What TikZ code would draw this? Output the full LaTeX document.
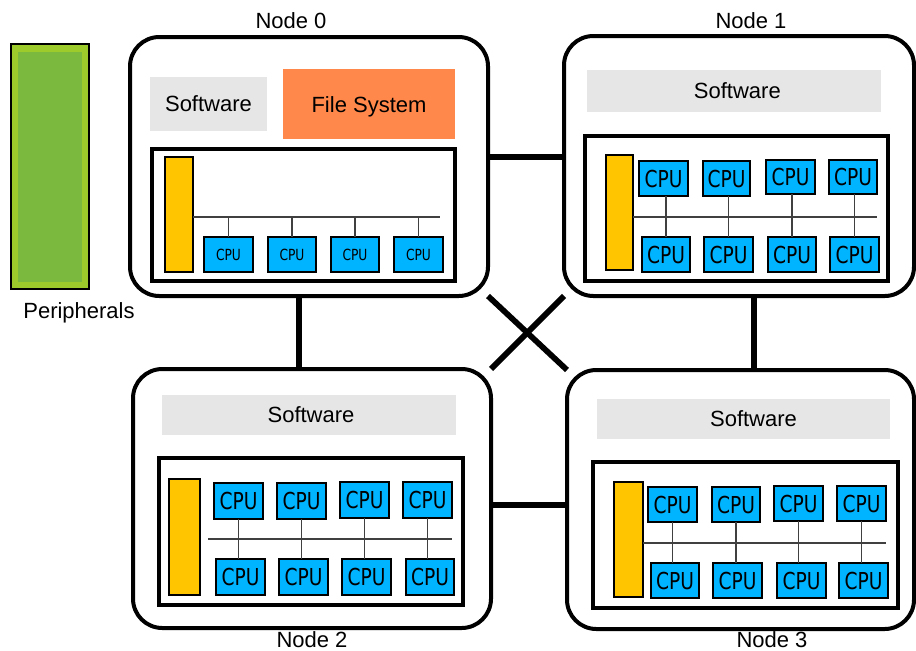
\documentclass[tikz,border=0pt]{standalone}
\usepackage{fontspec}
\setmainfont{Liberation Sans}
\newfontfamily\cpufont[FakeStretch=0.8]{DejaVu Sans}
\usetikzlibrary{fit}
\definecolor{cpublue}{HTML}{00B4FF}
\definecolor{baryellow}{HTML}{FFC600}
\definecolor{fsorange}{HTML}{FF884A}
\definecolor{swgray}{HTML}{E6E6E6}
\definecolor{pgreen}{HTML}{7AB93D}
\definecolor{pgreenlight}{HTML}{9DCB2B}
\begin{document}
\begin{tikzpicture}[x=0.75pt,y=-0.75pt,
  box/.style={inner sep=0pt,outer sep=0pt},
  outerbox/.style={box,draw,line width=3pt,rounded corners=22pt,fill=white},
  innerbox/.style={box,draw,line width=3pt,fill=white},
  swbox/.style={box,fill=swgray},
  fsbox/.style={box,fill=fsorange},
  txt/.style={inner sep=0pt,text depth=0pt,font=\fontsize{16.5}{18}\selectfont},
  ybar/.style={box,draw,line width=1pt,fill=baryellow},
  cpu/.style={box,draw,line width=1.8pt,fill=cpublue},
  cputxt/.style={inner sep=0pt,text depth=0pt,font=\cpufont\fontsize{17.5}{17}\selectfont},
  cputxtsmall/.style={cputxt,font=\cpufont\fontsize{11.5}{12}\selectfont},
  bus/.style={line width=1pt,draw=black!75},
  link/.style={line width=3.8pt},
  diag/.style={line width=4.3pt},
  lbl/.style={anchor=base,inner sep=0pt,font=\fontsize{16.5}{18}\selectfont}
]
\useasboundingbox (0,0) rectangle (916,650);

% peripherals
\node[box,draw,line width=2pt,fill=pgreenlight,fit={(11,44)(89,289)}] (per) {};
\node[box,fill=pgreen,fit={(18,52)(82,282)}] (perin) {};
\node[lbl] (perlbl) at (79,318) {Peripherals};

% outer node boxes (positions only, drawn after links)
\path
  node[box,fit={(130,37)(488,296)}] (n0p) {}
  node[box,fit={(564,36)(914,296)}] (n1p) {}
  node[box,fit={(133,369)(491,628)}] (n2p) {}
  node[box,fit={(567,370)(914,629)}] (n3p) {};

% links
\coordinate (l01) at (520,157);
\coordinate (l02) at (299,330);
\coordinate (l13) at (754,330);
\coordinate (l23) at (530,505);
\draw[link] (n0p.east |- l01) -- (n1p.west |- l01);
\draw[link] (l02 |- n0p.south) -- (l02 |- n2p.north);
\draw[link] (l13 |- n1p.south) -- (l13 |- n3p.north);
\draw[link] (n2p.east |- l23) -- (n3p.west |- l23);
\draw[diag] (n0p.south east) -- (n3p.north west);
\draw[diag] (n1p.south west) -- (n2p.north east);

% outer boxes
\node[outerbox,fit={(130,37)(488,296)}] (n0) {};
\node[outerbox,fit={(564,36)(914,296)}] (n1) {};
\node[outerbox,fit={(133,369)(491,628)}] (n2) {};
\node[outerbox,fit={(567,370)(914,629)}] (n3) {};

\node[lbl] (n0lbl) at (291,28) {Node 0};
\node[lbl] (n1lbl) at (751,28) {Node 1};
\node[lbl] (n2lbl) at (312,647) {Node 2};
\node[lbl] (n3lbl) at (772,647) {Node 3};

% ---------- Node 0 ----------
\node[swbox,fit={(150,77)(267,131)}] (sw0) {};
\node[txt] (sw0t) at (sw0.center) {Software};
\node[fsbox,fit={(283,69)(455,139)}] (fs0) {};
\node[txt] (fs0t) at ([yshift=-0.5pt]fs0.center) {File System};
\node[innerbox,fit={(152,149)(455,281)}] (in0) {};
\node[ybar,fit={(165,157)(193,272)}] (y0) {};
\coordinate (b0) at (440,217);
\foreach \n/\xa/\xb in {c0a/204/253,c0b/268/316,c0c/331/379,c0d/394/443}{
  \node[cpu,fit={(\xa,237)(\xb,272)}] (\n) {};
  \node[cputxtsmall] (\n t) at (\n.center) {CPU};
  \draw[bus] (\n.north) -- (\n.north |- b0);
}
\draw[bus] (y0.east |- b0) -- (b0);

% ---------- Node 1 ----------
\node[swbox,fit={(587,70)(881,112)}] (sw1) {};
\node[txt] (sw1t) at ([xshift=2.5pt]sw1.center) {Software};
\node[innerbox,fit={(585,136)(888,281)}] (in1) {};
\node[ybar,fit={(606,155)(633,270)}] (y1) {};
\coordinate (b1) at (877,217);
\draw[bus] (y1.east |- b1) -- (b1);
\foreach \n/\xa/\xb/\ya/\yb in {c1t1/639/688/161/196,c1t2/703/750/161/196,c1t3/766/815/160/194,c1t4/829/877/160/194,
  c1b1/642/690/237/272,c1b2/704/753/237/272,c1b3/768/816/237/272,c1b4/830/879/237/272}{
  \node[cpu,fit={(\xa,\ya)(\xb,\yb)}] (\n) {};
  \node[cputxt] (\n t) at (\n.center) {CPU};
}
\foreach \i in {1,2,3,4} \draw[bus] (c1b\i.north) -- (c1b\i.north |- c1t\i.south);

% ---------- Node 2 ----------
\node[swbox,fit={(162,395)(456,435)}] (sw2) {};
\node[txt] (sw2t) at ([xshift=1.5pt]sw2.center) {Software};
\node[innerbox,fit={(159,458)(463,605)}] (in2) {};
\node[ybar,fit={(169,479)(200,595)}] (y2) {};
\coordinate (b2s) at (208,539);
\coordinate (b2) at (452,539);
\draw[bus] (b2s) -- (b2);
\foreach \n/\xa/\xb/\ya/\yb in {c2t1/214/263/483/519,c2t2/277/326/483/519,c2t3/340/389/482/518,c2t4/403/452/482/518,
  c2b1/216/265/559/595,c2b2/279/328/559/595,c2b3/342/391/559/595,c2b4/406/454/559/595}{
  \node[cpu,fit={(\xa,\ya)(\xb,\yb)}] (\n) {};
  \node[cputxt] (\n t) at (\n.center) {CPU};
}
\foreach \i in {1,2,3,4} \draw[bus] (c2t\i.south) -- (c2t\i.south |- c2b\i.north);

% ---------- Node 3 ----------
\node[swbox,fit={(597,399)(890,439)}] (sw3) {};
\node[txt] (sw3t) at ([xshift=7.5pt]sw3.center) {Software};
\node[innerbox,fit={(593,462)(898,608)}] (in3) {};
\node[ybar,fit={(614,482)(643,597)}] (y3) {};
\coordinate (b3) at (886,543);
\draw[bus] (y3.east |- b3) -- (b3);
\foreach \n/\xa/\xb/\ya/\yb in {c3t1/648/697/487/522,c3t2/712/760/487/522,c3t3/774/823/486/521,c3t4/837/886/486/521,
  c3b1/651/699/563/598,c3b2/713/762/563/598,c3b3/777/826/563/598,c3b4/839/888/563/598}{
  \node[cpu,fit={(\xa,\ya)(\xb,\yb)}] (\n) {};
  \node[cputxt] (\n t) at (\n.center) {CPU};
}
\foreach \i in {1,2,3,4} \draw[bus] (c3t\i.south) -- (c3t\i.south |- c3b\i.north);
\end{tikzpicture}
\end{document}
